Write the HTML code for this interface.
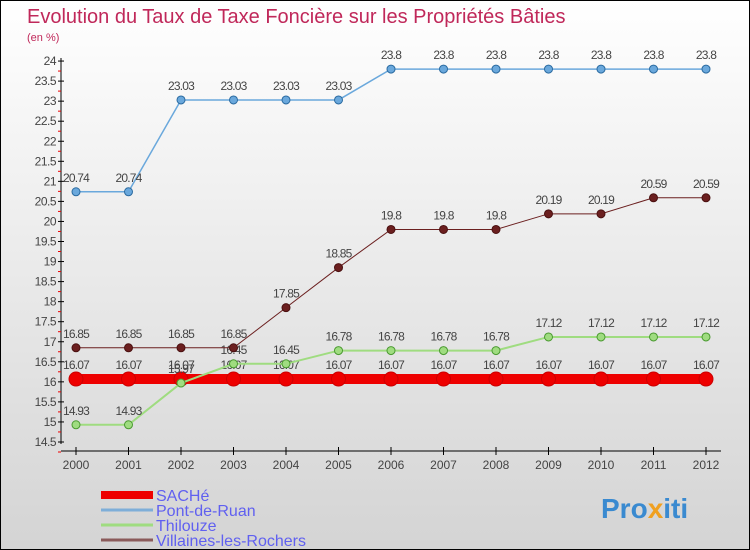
<!DOCTYPE html>
<html><head><meta charset="utf-8"><style>
body{margin:0}
#c{width:750px;height:550px;position:relative;background:linear-gradient(#fff,#d4d4d4);border:1px solid #000;box-sizing:border-box;font-family:"Liberation Sans",sans-serif;overflow:hidden}
</style></head><body>
<div id="c">
<svg id="s" width="750" height="550" style="position:absolute;left:0;top:0">
<text x="26" y="22" font-size="20" fill="#c0285a">Evolution du Taux de Taxe Foncière sur les Propriétés Bâties</text>
<text x="26" y="40" font-size="11" fill="#c0285a">(en %)</text>
<text x="600" y="517" font-size="28" font-weight="bold" fill="#3a8ad0">Pro<tspan fill="#f0a020">x</tspan>iti</text>
</svg>
</div>
<script>
const years=[2000,2001,2002,2003,2004,2005,2006,2007,2008,2009,2010,2011,2012];
const sache=[16.07,16.07,16.07,16.07,16.07,16.07,16.07,16.07,16.07,16.07,16.07,16.07,16.07];
const pont=[20.74,20.74,23.03,23.03,23.03,23.03,23.8,23.8,23.8,23.8,23.8,23.8,23.8];
const thil=[14.93,14.93,15.97,16.45,16.45,16.78,16.78,16.78,16.78,17.12,17.12,17.12,17.12];
const vill=[16.85,16.85,16.85,16.85,17.85,18.85,19.8,19.8,19.8,20.19,20.19,20.59,20.59];
const yTicks=[14.5,15,15.5,16,16.5,17,17.5,18,18.5,19,19.5,20,20.5,21,21.5,22,22.5,23,23.5,24];
const names=["SACHé","Pont-de-Ruan","Thilouze","Villaines-les-Rochers"];
const s=document.getElementById('s'),NS='http://www.w3.org/2000/svg';
const X=i=>75+i*52.5, Y=v=>441-(v-14.5)*40.1;
function el(t,a,p){const e=document.createElementNS(NS,t);for(const k in a)e.setAttribute(k,a[k]);(p||s).appendChild(e);return e;}
let ax=el('line',{x1:60,y1:57,x2:60,y2:443,stroke:'#000'});


let xx=el('line',{x1:60,y1:450,x2:720,y2:450,stroke:'#000'});


yTicks.forEach(v=>{el('line',{x1:57,x2:63,y1:Y(v),y2:Y(v),stroke:'#000'});
el('line',{x1:57,x2:60,y1:Y(v)+10,y2:Y(v)+10,stroke:'#e00'});
const t=el('text',{x:55,y:Y(v)+4,'text-anchor':'end','font-size':12,fill:'#444','letter-spacing':'-0.5'});t.textContent=v;

});
years.forEach((y,i)=>{el('line',{x1:X(i),x2:X(i),y1:446,y2:454,stroke:'#000'});
const t=el('text',{x:X(i),y:468,'text-anchor':'middle','font-size':12,fill:'#444'});t.textContent=y;

});
function series(d,col,w,r,name,dark){
const g=el('g',{});


el('polyline',{points:d.map((v,i)=>X(i)+','+Y(v)).join(' '),fill:'none',stroke:col,'stroke-width':w},g);
d.forEach((v,i)=>{const c=el('circle',{cx:X(i),cy:Y(v),r:r,fill:col,stroke:dark,'stroke-width':1},g);


const t=el('text',{x:X(i),y:Y(v)-10,'text-anchor':'middle','font-size':12,fill:'#444','letter-spacing':'-0.8'},g);t.textContent=v;});}
series(sache,'#ee0000',10,7,'sache','#c00');
series(pont,'#6aa8dc',1.5,4,'pont-de-ruan','#2a6aa0');
series(thil,'#9fdc80',2,4,'thilouze','#4a9a30');
series(vill,'#6b1f1f',1,4,'villaines','#4a1010');
const lc=['#ee0000','#7eaed8','#9fdc80','#8a5a5a'],lw=[8,3,3,3];
names.forEach((n,i)=>{const y=494+i*15;
const l=el('line',{x1:100,x2:152,y1:y,y2:y,stroke:lc[i],'stroke-width':lw[i]});


const t=el('text',{x:155,y:y+6,'font-size':16,fill:'#6060f0'});t.textContent=n;

});
</script>
</body></html>
